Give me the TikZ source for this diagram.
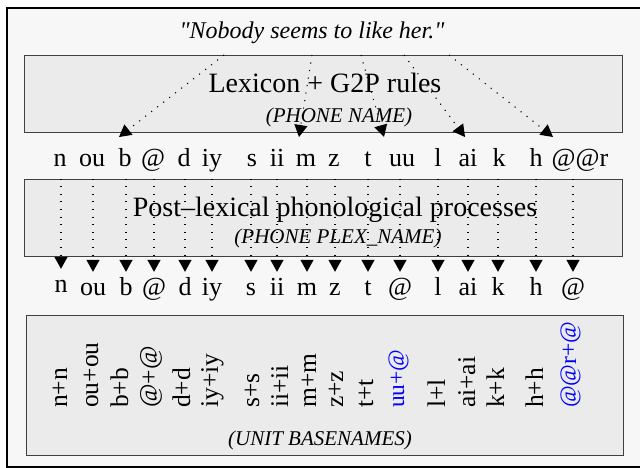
\documentclass[tikz,border=0pt]{standalone}
\usepackage{fontspec}
\setmainfont{Liberation Serif}[Ligatures=TeXOff]
\usetikzlibrary{arrows.meta,positioning}
\definecolor{pagegray}{gray}{0.97}
\definecolor{boxgray}{gray}{0.92}
\tikzset{
  stage/.style={draw=black!75,line width=0.9pt,fill=boxgray,minimum width=598pt,minimum height=77pt,inner sep=0pt},
  big/.style={inner sep=0pt,font=\fontsize{28}{30}\selectfont},
  tag/.style={inner sep=0pt,font=\fontsize{21}{23}\selectfont\itshape},
  ph/.style={inner sep=0pt,font=\fontsize{26}{28}\selectfont,text height=18pt,text depth=5pt},
  unit/.style={inner sep=0pt,rotate=90,anchor=base west,font=\fontsize{25.5}{28}\selectfont},
  newunit/.style={unit,text=blue,font=\fontsize{23.5}{26}\selectfont},
  flow/.style={line width=1.1pt,dash pattern=on 1.1pt off 6.5pt,-{Triangle[width=13pt,length=12pt]}}
}
\begin{document}
\begin{tikzpicture}[x=1pt,y=-1pt]
      \useasboundingbox (0,0) rectangle (640,468);
      \draw[line width=2pt,fill=pagegray] (7,8) rectangle (643,466.5);

      \node [inner sep=0pt,font=\fontsize{24}{26}\selectfont\itshape] (quote) at (312,33) {"Nobody seems to like her."};

      \node [stage] (lex) at (323,93.5) {};
      \node [big] (lextxt) at (325,83) {Lexicon + G2P rules};
      \node [tag] (lexname) at (339,117) {(PHONE NAME)};

      \node [stage] (post) at (323,217.5) {};
      \node [big] (posttxt) at (335,210) {Post–lexical phonological processes};
      \node [tag] (postname) at (338,238) {(PHONE PLEX\_NAME)};

      \node [stage,minimum width=597pt,minimum height=140pt] (units) at (324.5,385) {};
      \node [tag] (unitname) at (320,440) {(UNIT BASENAMES)};

      \node [ph] (p1) at (60,160.5) {n};
      \node [ph] (p2) at (92,160.5) {ou};
      \node [ph] (p3) at (125,160.5) {b};
      \node [ph] (p4) at (153,160.5) {@};
      \node [ph] (p5) at (184,160.5) {d};
      \node [ph] (p6) at (212,160.5) {iy};
      \node [ph] (p7) at (252,160.5) {s};
      \node [ph] (p8) at (277,160.5) {ii};
      \node [ph] (p9) at (306,160.5) {m};
      \node [ph] (p10) at (334,160.5) {z};
      \node [ph] (p11) at (368,160.5) {t};
      \node [ph] (p12) at (402,160.5) {uu};
      \node [ph] (p13) at (438,160.5) {l};
      \node [ph] (p14) at (468,160.5) {ai};
      \node [ph] (p15) at (499,160.5) {k};
      \node [ph] (p16) at (536,160.5) {h};
      \node [ph] (p17) at (580,160.5) {@@r};

      \node [ph,yshift=3pt] (q1) at (61,288.5) {n};
      \node [ph] (q2) at (93,288.5) {ou};
      \node [ph] (q3) at (126,288.5) {b};
      \node [ph] (q4) at (154,288.5) {@};
      \node [ph] (q5) at (185,288.5) {d};
      \node [ph] (q6) at (212,288.5) {iy};
      \node [ph] (q7) at (251,288.5) {s};
      \node [ph] (q8) at (277,288.5) {ii};
      \node [ph] (q9) at (307,288.5) {m};
      \node [ph] (q10) at (335,288.5) {z};
      \node [ph] (q11) at (368,288.5) {t};
      \node [ph] (q12) at (400,288.5) {@};
      \node [ph] (q13) at (438,288.5) {l};
      \node [ph] (q14) at (468,288.5) {ai};
      \node [ph] (q15) at (498,288.5) {k};
      \node [ph] (q16) at (536,288.5) {h};
      \node [ph] (q17) at (573,288.5) {@};

      \node [unit] (u1) at (67,408) {n+n};
      \node [unit] (u2) at (98,408) {ou+ou};
      \node [unit] (u3) at (128,408) {b+b};
      \node [unit] (u4) at (157,408) {@+@};
      \node [unit] (u5) at (190,408) {d+d};
      \node [unit] (u6) at (218,408) {iy+iy};
      \node [unit] (u7) at (259,408) {s+s};
      \node [unit] (u8) at (288,408) {ii+ii};
      \node [unit] (u9) at (316,408) {m+m};
      \node [unit] (u10) at (343,408) {z+z};
      \node [unit] (u11) at (373,408) {t+t};
      \node [newunit] (u12) at (404,408) {uu+@};
      \node [unit] (u13) at (445,408) {l+l};
      \node [unit] (u14) at (475,408) {ai+ai};
      \node [unit] (u15) at (504,408) {k+k};
      \node [unit] (u16) at (543,408) {h+h};
      \node [newunit] (u17) at (576,408) {@@r+@};

      \coordinate (nobody) at (224,55);
      \coordinate (seems) at (312,55);
      \coordinate (to) at (361,55);
      \coordinate (like) at (404,55);
      \coordinate (her) at (449,55);
      \coordinate (nobodyph) at (119,137);
      \coordinate (seemsph) at (299,137);
      \coordinate (toph) at (384,137);
      \coordinate (likeph) at (465,137);
      \coordinate (herph) at (553,137);

      \draw[flow] (nobody) -- (nobodyph);
      \draw[flow] (seems) -- (seemsph);
      \draw[flow] (to) -- (toph);
      \draw[flow] (like) -- (likeph);
      \draw[flow] (her) -- (herph);

      \draw[flow,shorten >=5pt] (q1 |- post.north) -- (q1);
      \draw[flow,shorten >=5pt] (q2 |- post.north) -- (q2);
      \draw[flow,shorten >=5pt] (q3 |- post.north) -- (q3);
      \draw[flow,shorten >=5pt] (q4 |- post.north) -- (q4);
      \draw[flow,shorten >=5pt] (q5 |- post.north) -- (q5);
      \draw[flow,shorten >=5pt] (q6 |- post.north) -- (q6);
      \draw[flow,shorten >=5pt] (q7 |- post.north) -- (q7);
      \draw[flow,shorten >=5pt] (q8 |- post.north) -- (q8);
      \draw[flow,shorten >=5pt] (q9 |- post.north) -- (q9);
      \draw[flow,shorten >=5pt] (q10 |- post.north) -- (q10);
      \draw[flow,shorten >=5pt] (q11 |- post.north) -- (q11);
      \draw[flow,shorten >=5pt] (q12 |- post.north) -- (q12);
      \draw[flow,shorten >=5pt] (q13 |- post.north) -- (q13);
      \draw[flow,shorten >=5pt] (q14 |- post.north) -- (q14);
      \draw[flow,shorten >=5pt] (q15 |- post.north) -- (q15);
      \draw[flow,shorten >=5pt] (q16 |- post.north) -- (q16);
      \draw[flow,shorten >=5pt] (q17 |- post.north) -- (q17);
    \end{tikzpicture}
\end{document}
